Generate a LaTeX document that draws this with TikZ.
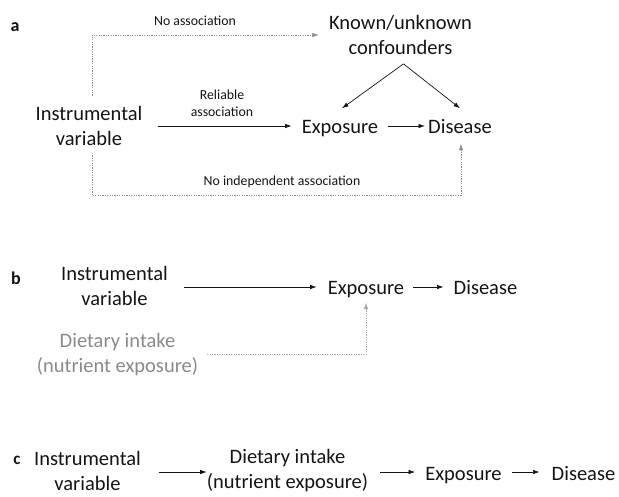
\documentclass[tikz,border=0pt]{standalone}
\usepackage{fontspec}
\setmainfont{Carlito}
\usetikzlibrary{arrows.meta}
\definecolor{txt}{HTML}{141414}
\definecolor{gtxt}{HTML}{8A8A8A}
\definecolor{dotc}{HTML}{8C8C8C}
\definecolor{gdot}{HTML}{A8A8A8}
\tikzset{
  big/.style={font=\fontsize{20.5}{25}\selectfont, align=center, inner sep=0pt, text=txt},
  one/.style={big, text height=14.5pt, text depth=4.5pt},
  small/.style={font=\fontsize{13.8}{17}\selectfont, align=center, inner sep=0pt, text=txt},
  plabel/.style={font=\fontsize{18}{20}\selectfont\bfseries, inner sep=0pt, text=txt, text height=9pt, text depth=0pt},
  arr/.style={draw=txt, line width=0.7pt, -{Latex[length=6.5pt,width=4.5pt]}},
  dotarr/.style={draw=dotc, line width=0.8pt, dash pattern=on 1.2pt off 1.2pt, -{Latex[length=6.5pt,width=4.5pt]}},
  gdotarr/.style={draw=gdot, line width=0.8pt, dash pattern=on 1.2pt off 1.2pt, -{Latex[length=6.5pt,width=4.5pt]}},
}
\begin{document}
\begin{tikzpicture}[x=1pt,y=-1pt]
\useasboundingbox (0,0) rectangle (619,496);
% ---------- panel a ----------
\node[plabel] (la) at (15,27) {a};
\node[big] (IVa) at (89,125.5) {Instrumental\\variable};
\node[big] (conf) at (400.5,35) {Known/unknown\\confounders};
\node[one] (Ea) at (340,128) {Exposure};
\node[one] (Da) at (460,128) {Disease};
\node[small] (noassoc) at (195,21) {No association};
\node[small] (rel) at (222,103.5) {Reliable\\association};
\node[small] (noind) at (282,182) {No independent association};
\draw[arr] ([xshift=15pt]IVa.east |- Ea.base) ++(0,-7) coordinate (s1) -- ([xshift=-10pt]Ea.west |- s1);
\draw[arr] ([xshift=10pt]Ea.east |- s1) -- ([xshift=-3pt]Da.west |- s1);
\coordinate (apex) at ([xshift=3pt,yshift=-9pt]conf.south);
\draw[arr] (apex) -- ([xshift=2pt,yshift=10pt]Ea.north);
\draw[arr] (apex) -- ([yshift=10pt]Da.north);
\draw[dotarr] ([xshift=3pt,yshift=10pt]IVa.north) |- ([xshift=-10pt]conf.west);
\draw[dotarr] ([xshift=3pt,yshift=-10pt]IVa.south) -- ++(0,40) -| ([xshift=1pt,yshift=-6pt]Da.south);
% ---------- panel b ----------
\node[plabel] (lb) at (16,280) {b};
\node[big] (IVb) at (114.5,285.5) {Instrumental\\variable};
\node[one] (Eb) at (366,289) {Exposure};
\node[one] (Db) at (485.5,289) {Disease};
\node[big, text=gtxt] (DIb) at (117.5,354.5) {Dietary intake\\(nutrient exposure)};
\draw[arr] ([xshift=16pt]IVb.east |- Eb.base) ++(0,-7) coordinate (s2) -- ([xshift=-11pt]Eb.west |- s2);
\draw[arr] ([xshift=9pt]Eb.east |- s2) -- ([xshift=-10pt]Db.west |- s2);
\draw[gdotarr] ([xshift=9pt]DIb.east) -| ([yshift=-4pt]Eb.south);
% ---------- panel c ----------
\node[plabel, font=\fontsize{17}{20}\selectfont\bfseries] (lc) at (17,460) {c};
\node[big] (IVc) at (87.5,471) {Instrumental\\variable};
\node[big] (DIc) at (287.5,471) {Dietary intake\\(nutrient exposure)};
\node[one] (Ec) at (463.5,475) {Exposure};
\node[one] (Dc) at (583.5,475) {Disease};
\draw[arr] ([xshift=18pt]IVc.east |- Ec.base) ++(0,-8) coordinate (s3) -- (DIc.west |- s3);
\draw[arr] ([xshift=12pt]DIc.east |- s3) -- ([xshift=-10pt]Ec.west |- s3);
\draw[arr] ([xshift=10pt]Ec.east |- s3) -- ([xshift=-12pt]Dc.west |- s3);
\end{tikzpicture}
\end{document}
